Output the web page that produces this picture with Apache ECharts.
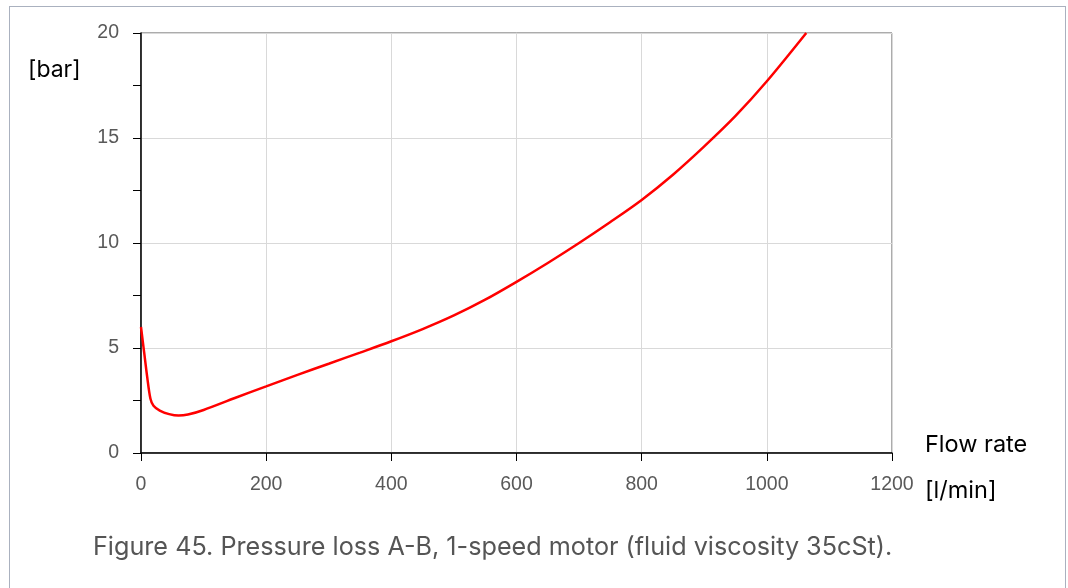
<!DOCTYPE html>
<html>
<head>
<meta charset="utf-8">
<script src="https://cdn.jsdelivr.net/npm/echarts@6/dist/echarts.min.js"></script>
<style>
  html, body { margin: 0; padding: 0; background: #fff; overflow: hidden; }
  #frame { position: absolute; left: 9px; top: 6px; width: 1057px; height: 620px;
           border: 1px solid #aab1bf; box-sizing: border-box; }
  #chart { position: absolute; left: 0; top: 0; width: 1068px; height: 588px; }
</style>
</head>
<body>
<div id="frame"></div>
<div id="chart"></div>
<script>
// Pressure loss A-B vs. flow rate, 1-speed motor at 35 cSt
const flowRate = [0, 5, 10, 15, 20, 30, 45, 60, 75, 100, 150, 200, 250, 300, 350, 400, 450, 500, 550, 600,
                  650, 700, 750, 800, 850, 900, 950, 1000, 1063];
const pressureLoss = [6.0, 4.8, 3.6, 2.6, 2.25, 2.02, 1.85, 1.78, 1.83, 2.05, 2.62, 3.17, 3.72, 4.25, 4.78, 5.32, 5.9, 6.55, 7.3, 8.15,
                      9.05, 10.0, 11.0, 12.05, 13.25, 14.6, 16.05, 17.7, 20.0];

const xTicks = { min: 0, max: 1200, step: 200 };
const yTicks = { min: 0, max: 20, step: 5 };

const yUnit = '[bar]';
const xName = 'Flow rate';
const xUnit = '[l/min]';
const caption = 'Figure 45. Pressure loss A-B, 1-speed motor (fluid viscosity 35cSt).';

const points = flowRate.map((q, i) => [q, pressureLoss[i]]);

const tickFont = { color: '#595959', fontSize: 19.5, fontFamily: 'Liberation Sans' };
const textFont = 'Inter';

const chart = echarts.init(document.getElementById('chart'), null, { renderer: 'canvas' });
chart.setOption({
  animation: false,
  backgroundColor: 'transparent',
  grid: {
    left: 141, top: 33, right: 176, bottom: 135,
    show: true, borderColor: '#595959', borderWidth: 1, backgroundColor: 'transparent'
  },
  xAxis: {
    type: 'value', min: xTicks.min, max: xTicks.max, interval: xTicks.step,
    axisLine: { show: true, onZero: false, lineStyle: { color: '#000', width: 1.5 } },
    axisTick: { show: true, length: 8, lineStyle: { color: '#000' } },
    axisLabel: Object.assign({ margin: 22, formatter: v => String(v) }, tickFont),
    splitLine: { show: true, lineStyle: { color: '#d9d9d9', width: 1 } }
  },
  yAxis: {
    type: 'value', min: yTicks.min, max: yTicks.max, interval: yTicks.step,
    axisLine: { show: true, onZero: false, lineStyle: { color: '#000', width: 1.5 } },
    axisTick: { show: true, length: 8, lineStyle: { color: '#000' } },
    minorTick: { show: true, splitNumber: 2, length: 8, lineStyle: { color: '#000' } },
    axisLabel: Object.assign({ margin: 22, formatter: v => String(v) }, tickFont),
    splitLine: { show: true, lineStyle: { color: '#d9d9d9', width: 1 } }
  },
  series: [{
    type: 'line',
    data: points,
    smooth: 0.3,
    showSymbol: false,
    lineStyle: { color: '#ff0000', width: 2.5 },
    clip: true
  }],
  graphic: [
    { type: 'text', left: 28, top: 59,
      style: { text: yUnit, fill: '#000', font: '23px ' + textFont } },
    { type: 'text', left: 925, top: 433,
      style: { text: xName, fill: '#000', font: '23.5px ' + textFont } },
    { type: 'text', left: 925, top: 479,
      style: { text: xUnit, fill: '#000', font: '23.5px ' + textFont } },
    { type: 'text', left: 93, top: 535,
      style: { text: caption, fill: '#555555', font: '25.2px ' + textFont } }
  ]
});
</script>
</body>
</html>
